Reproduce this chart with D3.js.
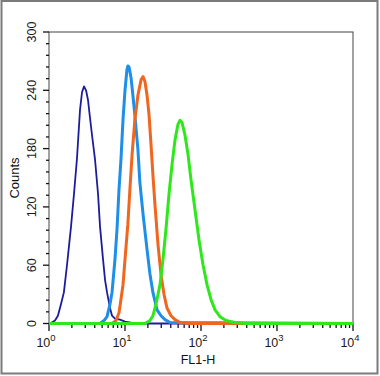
<!DOCTYPE html>
<html>
<head>
<meta charset="utf-8">
<style>
body{ margin:0; background:#fff; }
svg{ display:block; font-family:"Liberation Sans", Arial, sans-serif; }
.trace{ fill:none; stroke-linejoin:round; }
</style>
</head>
<body>
<script src="https://cdn.jsdelivr.net/npm/d3@7/dist/d3.min.js"></script>
<script>
  var WIDTH = 380;
  var HEIGHT = 376;

  // FL1-H channel values and counts
  var navyFl1 = [1, 1.03, 1.20, 1.31, 1.44, 1.57, 1.73, 1.95, 2.13, 2.33, 2.56, 2.72, 2.89, 3.07, 3.26, 3.46, 3.68, 4.03, 4.42, 4.69, 5.14, 5.46, 5.80, 6.35, 6.75, 7.38, 8.59, 10, 13.5, 10000];
  var navyCounts = [0, 0, 3, 8, 20, 32, 61, 100, 133, 169, 220, 238, 244, 240, 230, 212, 194, 169, 133, 100, 66, 45, 32, 16, 8, 5, 4, 2, 0, 0];

  var blueFl1 = [1, 4.69, 5.30, 5.80, 6.35, 6.75, 7.38, 7.85, 8.34, 8.85, 9.42, 10.0, 10.6, 10.9, 11.3, 12.0, 12.7, 13.5, 14.8, 15.7, 17.3, 19.5, 21.3, 23.3, 26.4, 29.8, 33.6, 39.1, 10000];
  var blueCounts = [0, 0, 3, 7, 20, 32, 66, 97, 138, 169, 210, 240, 261, 265, 264, 253, 235, 214, 179, 145, 112, 76, 51, 32, 14, 8, 4, 1, 0];

  var orangeFl1 = [1, 6.75, 7.62, 8.34, 8.85, 9.42, 10.0, 10.9, 11.6, 12.4, 13.5, 14.8, 16.3, 17.3, 18.3, 19.5, 20.7, 22.0, 23.3, 24.8, 27.2, 29.8, 32.6, 35.7, 40.3, 45.5, 53.0, 71.6, 10000];
  var orangeCounts = [0, 0, 3, 11, 25, 40, 66, 102, 138, 174, 210, 235, 251, 254, 249, 235, 215, 184, 153, 122, 81, 50, 30, 16, 8, 4, 1, 0, 0];

  var greenFl1 = [1, 18.3, 21.3, 23.3, 25.6, 28.9, 31.6, 34.6, 37.9, 41.5, 45.5, 49.8, 53.0, 56.2, 61.5, 67.5, 73.8, 83.4, 94.2, 106, 120, 135, 153, 178, 213, 280, 379, 10000];
  var greenCounts = [0, 0, 3, 8, 20, 40, 66, 97, 133, 163, 189, 205, 209, 207, 194, 174, 148, 117, 86, 61, 40, 25, 14, 7, 3, 1, 0, 0];

  var yTicks = [0, 60, 120, 180, 240, 300];
  var xDecades = [0, 1, 2, 3, 4];

  var series = [
    {x: navyFl1, y: navyCounts, color: "#1c1c9c", width: 1.8},
    {x: blueFl1, y: blueCounts, color: "#1e8fe8", width: 3},
    {x: orangeFl1, y: orangeCounts, color: "#f0661e", width: 3},
    {x: greenFl1, y: greenCounts, color: "#2ee81c", width: 3}
  ];

  var xScale = d3.scaleLog()
    .domain([1, 10000])
    .range([49, 353]);

  var yScale = d3.scaleLinear()
    .domain([0, 300])
    .range([323.5, 32]);

  var svg = d3.select("body").append("svg")
    .attr("width", WIDTH)
    .attr("height", HEIGHT);

  // outer frame
  svg.append("rect")
    .attr("x", 1.5).attr("y", 1)
    .attr("width", 376).attr("height", 372.5)
    .attr("fill", "none")
    .attr("stroke", "#7b7b7b")
    .attr("stroke-width", 2);

  // plot box
  svg.append("rect")
    .attr("x", xScale.range()[0]).attr("y", yScale.range()[1])
    .attr("width", xScale.range()[1] - xScale.range()[0])
    .attr("height", yScale.range()[0] - yScale.range()[1])
    .attr("fill", "none")
    .attr("stroke", "#444")
    .attr("stroke-width", 1);

  // y axis: major + minor ticks
  var yMinor = d3.range(0, 301, 12).filter(function(d){ return yTicks.indexOf(d) < 0; });
  var yAxisG = svg.append("g");
  yAxisG.selectAll("line.minor")
    .data(yMinor)
    .enter().append("line")
      .attr("x1", 49).attr("x2", 46)
      .attr("y1", function(d){ return yScale(d); })
      .attr("y2", function(d){ return yScale(d); })
      .attr("stroke", "#111").attr("stroke-width", 1.3);
  yAxisG.selectAll("line.major")
    .data(yTicks)
    .enter().append("line")
      .attr("x1", 49).attr("x2", 43)
      .attr("y1", function(d){ return yScale(d); })
      .attr("y2", function(d){ return yScale(d); })
      .attr("stroke", "#111").attr("stroke-width", 1.3);
  yAxisG.selectAll("text")
    .data(yTicks)
    .enter().append("text")
      .attr("transform", function(d){ return "translate(36," + yScale(d) + ") rotate(-90)"; })
      .attr("text-anchor", "middle")
      .style("font-size", "12.5px")
      .attr("fill", "#1a1a1a")
      .text(function(d){ return d; });

  svg.append("text")
    .attr("transform", "translate(19,178) rotate(-90)")
    .attr("text-anchor", "middle")
    .style("font-size", "13px")
    .attr("fill", "#111")
    .text("Counts");

  // x axis: decade ticks + log minor ticks
  var xMinor = [];
  xDecades.slice(0, -1).forEach(function(e){
    d3.range(2, 10).forEach(function(m){ xMinor.push(m * Math.pow(10, e)); });
  });
  var xAxisG = svg.append("g");
  xAxisG.selectAll("line.minor")
    .data(xMinor)
    .enter().append("line")
      .attr("y1", 324).attr("y2", 328)
      .attr("x1", function(d){ return xScale(d); })
      .attr("x2", function(d){ return xScale(d); })
      .attr("stroke", "#111").attr("stroke-width", 1.3);
  xAxisG.selectAll("line.major")
    .data(xDecades)
    .enter().append("line")
      .attr("y1", 324).attr("y2", 331)
      .attr("x1", function(d){ return xScale(Math.pow(10, d)); })
      .attr("x2", function(d){ return xScale(Math.pow(10, d)); })
      .attr("stroke", "#111").attr("stroke-width", 1.3);
  var xLabels = xAxisG.selectAll("text")
    .data(xDecades)
    .enter().append("text")
      .attr("x", function(d){ return xScale(Math.pow(10, d)) - 3; })
      .attr("y", 347)
      .attr("text-anchor", "middle")
      .style("font-size", "12.5px")
      .attr("fill", "#1a1a1a");
  xLabels.append("tspan").text("10");
  xLabels.append("tspan")
    .attr("dy", -6)
    .style("font-size", "9.5px")
    .text(function(d){ return d; });

  svg.append("text")
    .attr("x", 198).attr("y", 364)
    .attr("text-anchor", "middle")
    .style("font-size", "12.5px")
    .attr("fill", "#111")
    .text("FL1-H");

  // histograms
  var line = d3.line()
    .x(function(d){ return xScale(d[0]); })
    .y(function(d){ return yScale(d[1]); });

  svg.append("g").selectAll("path.trace")
    .data(series)
    .enter().append("path")
      .attr("class", "trace")
      .attr("d", function(s){ return line(s.x.map(function(v, i){ return [v, s.y[i]]; })); })
      .attr("stroke", function(s){ return s.color; })
      .attr("stroke-width", function(s){ return s.width; });
</script>
</body>
</html>
